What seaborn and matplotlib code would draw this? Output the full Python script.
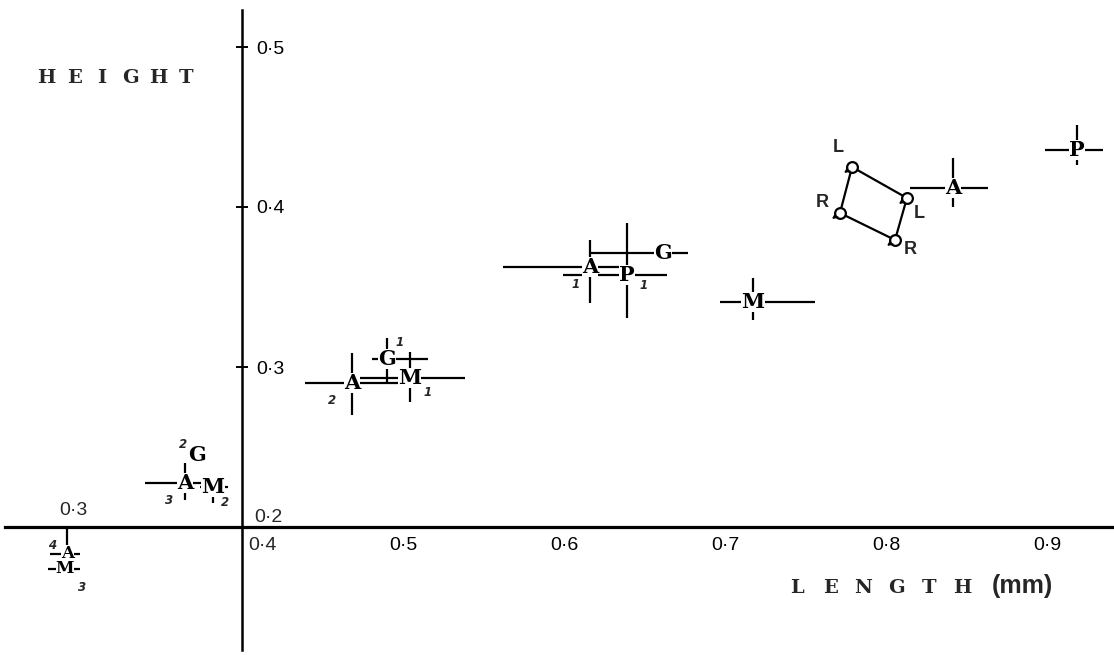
import matplotlib
matplotlib.use("Agg")
import matplotlib.pyplot as plt
import seaborn as sns
import pandas as pd
import numpy as np

# ---------------- data ----------------
letters = ['A', 'M', 'A', 'G', 'M', 'A', 'G', 'M', 'A', 'G', 'P', 'M', 'A', 'P']
subs    = ['4', '3', '3', '2', '2', '2', '1', '1', '1', '', '1', '', '', '']
length  = [0.2965, 0.2950, 0.3646, 0.3720, 0.3820, 0.4683, 0.4900, 0.5043,
           0.6161, 0.6615, 0.6391, 0.7174, 0.8416, 0.9186]
height  = [0.1832, 0.1738, 0.2275, 0.2450, 0.2250, 0.2900, 0.3050, 0.2931,
           0.3625, 0.3713, 0.3575, 0.3406, 0.4119, 0.4356]
len_lo  = [0.011, 0.0105, 0.025, 0.0, 0.008, 0.029, 0.0093, 0.034,
           0.054, 0.0453, 0.040, 0.0205, 0.0267, 0.020]
len_hi  = [0.008, 0.0093, 0.012, 0.0, 0.009, 0.030, 0.0255, 0.034,
           0.0205, 0.0155, 0.025, 0.0385, 0.0217, 0.016]
hgt_lo  = [0.006, 0.0, 0.0106, 0.0, 0.010, 0.020, 0.015, 0.015,
           0.0225, 0.0, 0.027, 0.011, 0.012, 0.0094]
hgt_hi  = [0.0156, 0.0, 0.0125, 0.0, 0.006, 0.019, 0.013, 0.016,
           0.017, 0.0, 0.0325, 0.015, 0.019, 0.0156]
# subscript / superscript offsets (pixels right, pixels down)
sub_dx  = [-15, 17, -16, -14, 12, -20, 13, 18, -14, 0, 17, 0, 0, 0]
sub_dy  = [-8, 19, 17, -10, 15, 17, -17, 14, 18, 0, 10, 0, 0, 0]

# left / right valve parallelogram
corner_len = [0.7789, 0.8130, 0.8056, 0.7714, 0.7789]
corner_hgt = [0.4250, 0.4056, 0.3794, 0.39625, 0.4250]
corner_lab = ['L', 'L', 'R', 'R']
corner_dx  = [-14, 12, 15, -18]
corner_dy  = [-19, 15, 10, -10]

x_ticks = [0.5, 0.6, 0.7, 0.8, 0.9]
y_ticks = [0.3, 0.4, 0.5]
break_tick = 0.3
BREAK_SHIFT = -0.005      # scale break on the length axis

y_title = "HEIGHT"
x_title = "LENGTH"
x_unit = "(mm)"


def xpos(v):
    return v + BREAK_SHIFT if v < 0.33 else v


def fmt(v):
    return f"{v:.1f}".replace('.', '·')


# ---------------- figure ----------------
sns.set_style("white")
plt.rcParams['font.family'] = ['DejaVu Sans']

W, H = 1114, 655
fig = plt.figure(figsize=(W / 100, H / 100), dpi=100)
ax = fig.add_axes([0, 0, 1, 1])
ax.set_xlim(0.4 - 242 / 1610, 0.4 + 872 / 1610)
ax.set_ylim(0.2 - 128 / 1600, 0.2 + 527 / 1600)

PX = 72 / 100  # points per pixel

df = pd.DataFrame(dict(letter=letters, sub=subs, length=length, height=height,
                       llo=len_lo, lhi=len_hi, hlo=hgt_lo, hhi=hgt_hi,
                       dx=sub_dx, dy=sub_dy))
df['xp'] = [xpos(v) for v in df['length']]

# error crosses
ax.errorbar(df['xp'], df['height'],
            xerr=[df['llo'], df['lhi']], yerr=[df['hlo'], df['hhi']],
            fmt='none', ecolor='black', elinewidth=1.6, capsize=0, zorder=2)

# letters and subscripts
for _, r in df.iterrows():
    small = r['length'] < 0.33          # points beyond the scale break are set smaller
    ax.text(r['xp'], r['height'], r['letter'], ha='center', va='center',
            fontsize=12 if small else 15, fontweight='bold', family=['DejaVu Serif'],
            color='black', zorder=4,
            bbox=dict(fc='white', ec='none', pad=0.0))
    if r['sub']:
        ax.annotate(r['sub'], (r['xp'], r['height']),
                    xytext=(r['dx'] * PX, -r['dy'] * PX), textcoords='offset points',
                    ha='center', va='center', fontsize=8.5, fontweight='bold',
                    fontstyle='italic', family=['DejaVu Sans'], zorder=5)

# parallelogram
pg = pd.DataFrame(dict(length=corner_len, height=corner_hgt))
sns.lineplot(data=pg, x='length', y='height', sort=False, estimator=None,
             color='black', lw=1.6, ax=ax, zorder=3)
sns.scatterplot(data=pg.iloc[:4], x='length', y='height', marker='o', s=60,
                facecolor='white', edgecolor='black', linewidth=1.6, ax=ax, zorder=4)
for lx, ly, lab, dx, dy in zip(corner_len[:4], corner_hgt[:4], corner_lab, corner_dx, corner_dy):
    ax.annotate(lab, (lx, ly), xytext=(dx * PX, -dy * PX), textcoords='offset points',
                ha='center', va='center', fontsize=13, fontweight='bold',
                family=['Liberation Sans', 'DejaVu Sans'], zorder=5)
    ax.annotate('', xytext=(lx, ly), textcoords='data',
                xy=(lx - 8 / 1610, ly - 6 / 1600), xycoords='data',
                arrowprops=dict(arrowstyle='->', lw=1.2, color='black',
                                shrinkA=5, shrinkB=0, mutation_scale=7), zorder=5)

# ---------------- axes ----------------
ax.set_xlabel('')
ax.set_ylabel('')
ax.spines['top'].set_visible(False)
ax.spines['left'].set_position(('data', 0.4))
ax.spines['left'].set_bounds(0.2 - 123 / 1600, 0.2 + 517 / 1600)
ax.spines['left'].set_linewidth(1.8)
ax.spines['bottom'].set_position(('data', 0.2))
ax.spines['bottom'].set_bounds(0.4 - 237 / 1610, 0.4 + 872 / 1610)
ax.spines['bottom'].set_linewidth(2.3)
ax.spines['right'].set_position(('data', 0.4))
ax.spines['right'].set_visible(False)
for sp in ax.spines.values():
    sp.set_color('black')

tick_font = ['Liberation Sans', 'DejaVu Sans']
ax.set_xticks([xpos(break_tick)] + x_ticks)
ax.set_xticklabels([''] + [fmt(v) for v in x_ticks], fontsize=14, family=tick_font)
ax.tick_params(axis='x', direction='inout', length=9, width=1.4, pad=3, colors='black')

ax.set_yticks(y_ticks)
ax.set_yticklabels([fmt(v) for v in y_ticks], fontsize=14, family=tick_font)
ax.tick_params(axis='y', which='both', left=True, right=False,
               labelleft=False, labelright=True,
               direction='inout', length=9, width=1.4, pad=6, colors='black')

# special tick labels
ax.text(xpos(break_tick), 0.2 + 8 / 1600, fmt(break_tick),
        ha='center', va='bottom', fontsize=14, family=tick_font)
ax.text(0.4 + 20 / 1610, 0.2 - 10 / 1600, fmt(0.4), ha='center', va='top',
        fontsize=14, family=tick_font)
ax.text(0.4 + 26 / 1610, 0.2 + 9 / 1600, fmt(0.2), ha='center', va='center',
        fontsize=14, family=tick_font)

# axis titles (letter-spaced)
for i, ch in enumerate(y_title):
    ax.text((46 + 28 * i) / W, 1 - 78 / H, ch, transform=ax.transAxes,
            ha='center', va='center', fontsize=14, fontweight='bold',
            family=['DejaVu Serif'])
for i, ch in enumerate(x_title):
    ax.text((797 + 33 * i) / W, 1 - 588 / H, ch, transform=ax.transAxes,
            ha='center', va='center', fontsize=14, fontweight='bold',
            family=['DejaVu Serif'])
ax.text(1022 / W, 1 - 586 / H, x_unit, transform=ax.transAxes,
        ha='center', va='center', fontsize=18, fontweight='bold',
        family=tick_font)

fig.savefig("out.png", dpi=100)
